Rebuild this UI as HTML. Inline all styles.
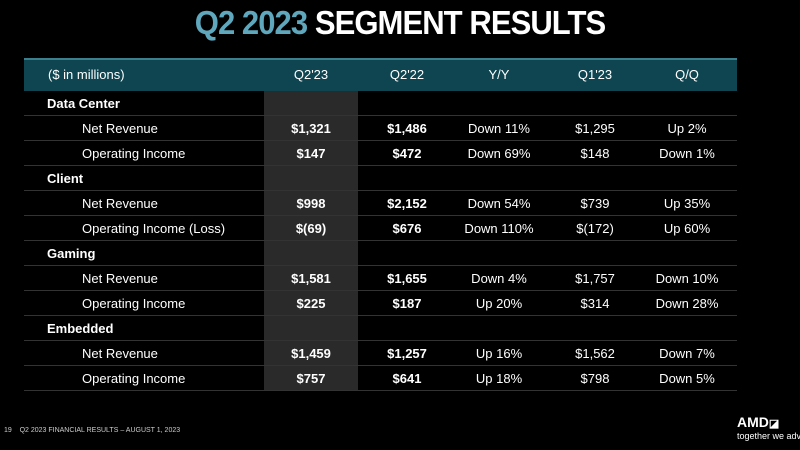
<!DOCTYPE html>
<html><head><style>
body{margin:0;width:800px;height:450px;background:#000;overflow:hidden;font-family:"Liberation Sans",Arial,sans-serif;color:#fff;position:relative}
.t{position:absolute;left:0;width:800px;top:4px;text-align:center;font-size:33px;font-weight:bold;letter-spacing:-1px;transform:scaleX(0.94);white-space:nowrap}
.hdr{position:absolute;left:24px;top:58px;width:713px;height:33px;background:#0f4550;border-top:2px solid #3b7e8c;box-sizing:border-box}
.hl{position:absolute;left:264px;top:91px;width:94px;height:299px;background:#2a2a2a}
.r{position:absolute;left:24px;width:713px;height:25px;font-size:13px;line-height:25px;white-space:nowrap}
.r span{position:absolute;top:0;transform:translateX(-50%);white-space:nowrap}
.sep{position:absolute;left:24px;width:713px;height:1px;background:#333}
.b{font-weight:bold}
</style></head><body>
<div class="t"><span style="color:#5fa7bc">Q2 2023</span> SEGMENT RESULTS</div>
<div class="hdr"></div>
<div class="hl"></div>
<div class="r" style="top:62px"><span style="left:24px;transform:none">($ in millions)</span><span style="left:287px">Q2'23</span><span style="left:383px">Q2'22</span><span style="left:475px">Y/Y</span><span style="left:571px">Q1'23</span><span style="left:663px">Q/Q</span></div>
<div id="rows"></div>
<script>
var d=[["Data Center"],["Net Revenue","$1,321","$1,486","Down 11%","$1,295","Up 2%"],["Operating Income","$147","$472","Down 69%","$148","Down 1%"],["Client"],["Net Revenue","$998","$2,152","Down 54%","$739","Up 35%"],["Operating Income (Loss)","$(69)","$676","Down 110%","$(172)","Up 60%"],["Gaming"],["Net Revenue","$1,581","$1,655","Down 4%","$1,757","Down 10%"],["Operating Income","$225","$187","Up 20%","$314","Down 28%"],["Embedded"],["Net Revenue","$1,459","$1,257","Up 16%","$1,562","Down 7%"],["Operating Income","$757","$641","Up 18%","$798","Down 5%"]];
var xs=[287,383,475,571,663],h="";
d.forEach(function(r,i){var y=91+i*25;
h+='<div class="r" style="top:'+y+'px">';
if(r.length==1)h+='<span class="b" style="left:23px;transform:none">'+r[0]+'</span>';
else{h+='<span style="left:58px;transform:none">'+r[0]+'</span>';
for(var j=1;j<6;j++)h+='<span'+(j<3?' class="b"':'')+' style="left:'+xs[j-1]+'px">'+r[j]+'</span>';}
h+='</div><div class="sep" style="top:'+(y+24)+'px"></div>';});
document.getElementById("rows").innerHTML=h;
</script>
<div style="position:absolute;left:4px;top:427px;font-size:7px;color:#ccc;white-space:nowrap">19 &nbsp;&nbsp; Q2 2023 FINANCIAL RESULTS – AUGUST 1, 2023</div>
<div style="position:absolute;left:737px;top:414px;font-size:14px;font-weight:bold;white-space:nowrap">AMD<span style="font-size:11px">◪</span></div>
<div style="position:absolute;left:737px;top:431px;font-size:9px;white-space:nowrap">together we adva</div>
</body></html>
